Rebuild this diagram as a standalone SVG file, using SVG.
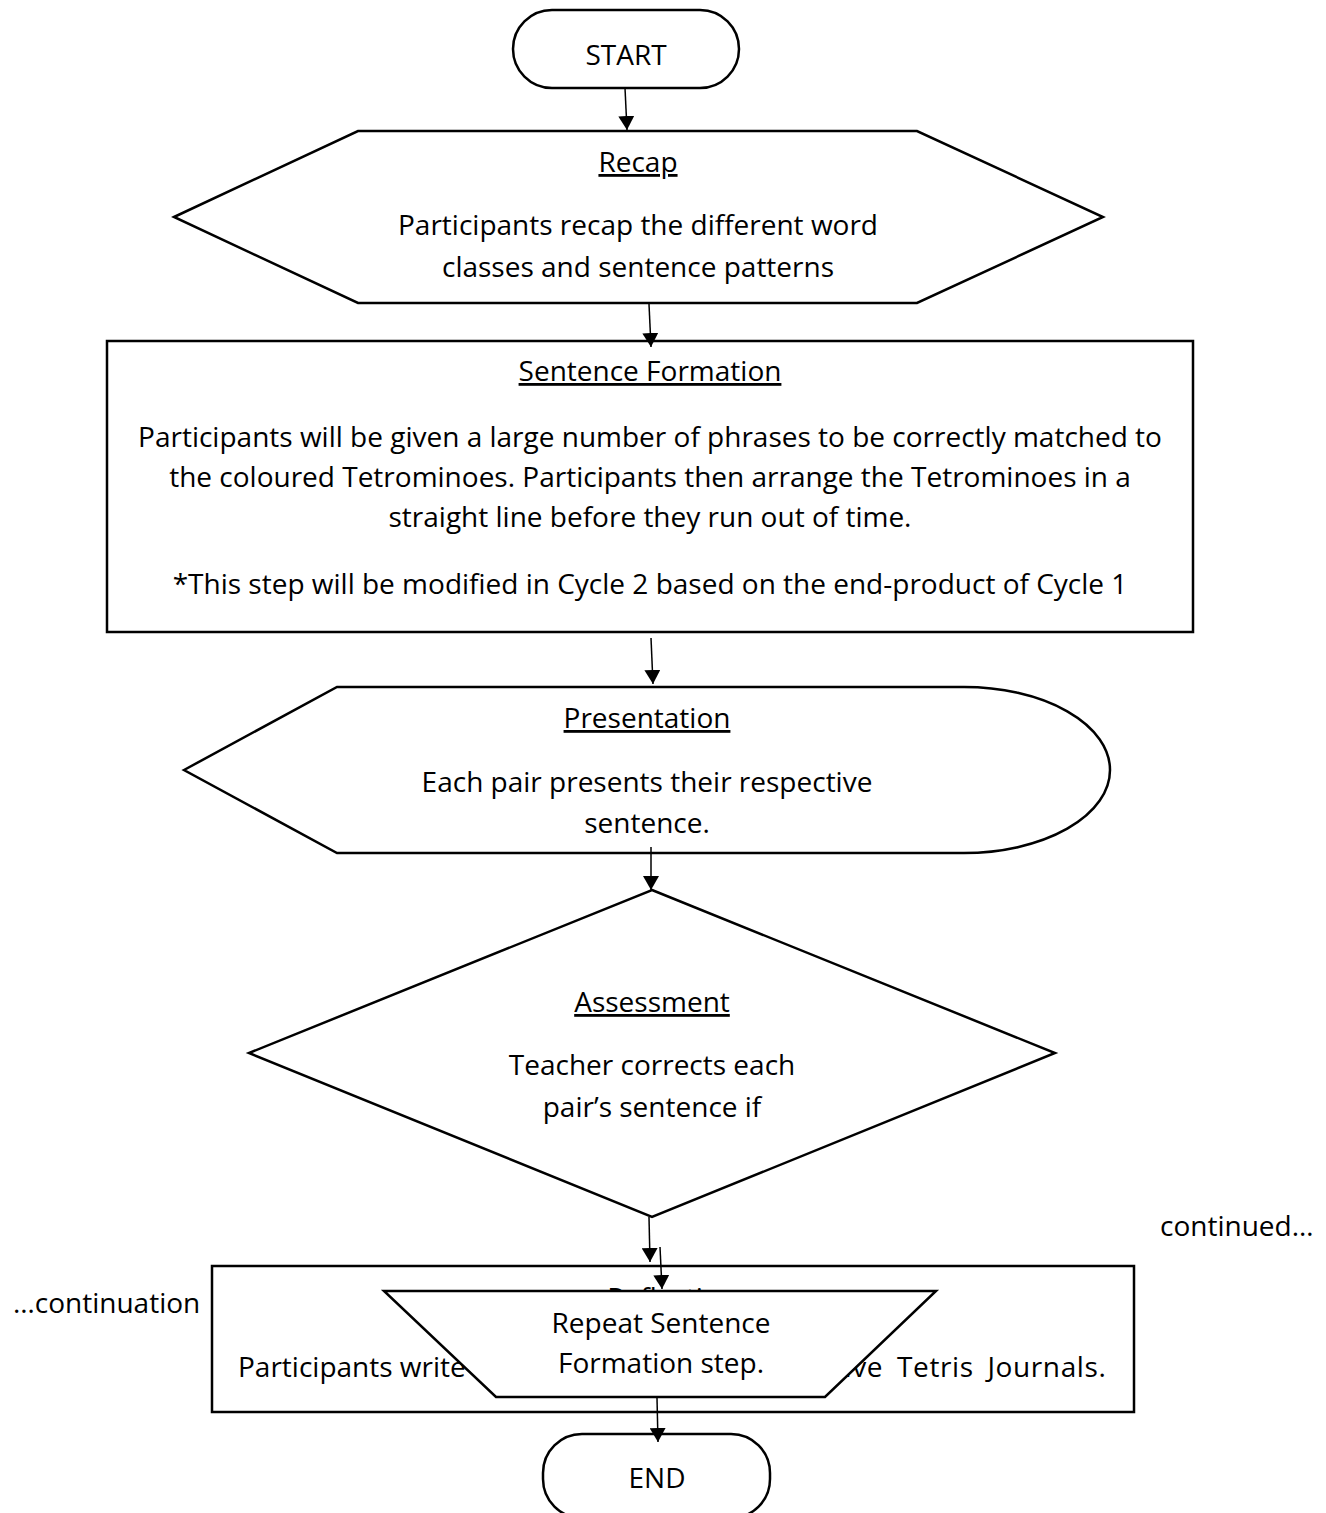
<svg xmlns="http://www.w3.org/2000/svg" width="1326" height="1513" viewBox="0 0 1326 1513">
<defs>
<style>
.shape{fill:#fff;stroke:#000;stroke-width:2.5;stroke-linejoin:miter}
.t{font-family:"Open Sans","Liberation Sans",sans-serif;font-size:28px;fill:#000;text-anchor:middle}
.h{text-decoration:underline}
.conn line{stroke:#000;stroke-width:1.5;marker-end:url(#arr)}
</style>
<marker id="arr" viewBox="0 0 14 16" refX="14" refY="8" markerWidth="14" markerHeight="16" markerUnits="userSpaceOnUse" orient="auto">
<path d="M0,0 L14,8 L0,16 Z" fill="#000"/>
</marker>
</defs>
<rect width="1326" height="1513" fill="#fff"/>

<g id="start">
<rect class="shape" x="513" y="10" width="226" height="78" rx="39" ry="39"/>
<text class="t" x="626" y="65">START</text>
</g>

<g id="recap">
<polygon class="shape" points="174,217 358,131 917,131 1103,217 917,303 358,303"/>
<text class="t h" x="638" y="172">Recap</text>
<text class="t" x="638" y="235">Participants recap the different word</text>
<text class="t" x="638" y="277">classes and sentence patterns</text>
</g>

<g id="sentence-formation">
<rect class="shape" x="107" y="341" width="1086" height="291"/>
<text class="t h" x="650" y="381">Sentence Formation</text>
<text class="t" x="650" y="447">Participants will be given a large number of phrases to be correctly matched to</text>
<text class="t" x="650" y="487">the coloured Tetrominoes. Participants then arrange the Tetrominoes in a</text>
<text class="t" x="650" y="527">straight line before they run out of time.</text>
<text class="t" x="650" y="594">*This step will be modified in Cycle 2 based on the end-product of Cycle 1</text>
</g>

<g id="presentation">
<path class="shape" d="M184,770 L337,687 L964,687 A146,83 0 0 1 964,853 L337,853 Z"/>
<text class="t h" x="647" y="728">Presentation</text>
<text class="t" x="647" y="792">Each pair presents their respective</text>
<text class="t" x="647" y="833">sentence.</text>
</g>

<g id="assessment">
<polygon class="shape" points="652,890 1055,1053 652,1217 249,1053"/>
<text class="t h" x="652" y="1012">Assessment</text>
<text class="t" x="652" y="1075">Teacher corrects each</text>
<text class="t" x="652" y="1117">pair’s sentence if</text>
</g>

<g id="reflection">
<rect class="shape" x="212" y="1266" width="922" height="146"/>
<text class="t h" x="672" y="1308">Reflection</text>
<text class="t" style="text-anchor:start"><tspan x="238" y="1377">Participants write reflections in their respec</tspan><tspan x="834" y="1377" word-spacing="6" letter-spacing="0.6">tive Tetris Journals.</tspan></text>
</g>

<g id="repeat">
<polygon class="shape" points="384,1291 936,1291 825,1397 496,1397"/>
<text class="t" x="661" y="1333">Repeat Sentence</text>
<text class="t" x="661" y="1373">Formation step.</text>
</g>

<g id="end">
<rect class="shape" x="543" y="1434" width="227" height="84" rx="39" ry="39"/>
<text class="t" x="657" y="1488">END</text>
</g>

<g id="notes">
<text class="t" style="text-anchor:start" x="1160" y="1236">continued…</text>
<text class="t" style="text-anchor:start" x="13" y="1313">…continuation</text>
</g>

<g id="connectors" class="conn">
<line x1="625" y1="88" x2="627" y2="130"/>
<line x1="649" y1="304" x2="651" y2="347"/>
<line x1="651" y1="638" x2="653" y2="684"/>
<line x1="651" y1="847" x2="651" y2="890"/>
<line x1="649" y1="1217" x2="650" y2="1262"/>
<line x1="660" y1="1247" x2="662" y2="1289"/>
<line x1="657" y1="1398" x2="658" y2="1442"/>
</g>
</svg>
